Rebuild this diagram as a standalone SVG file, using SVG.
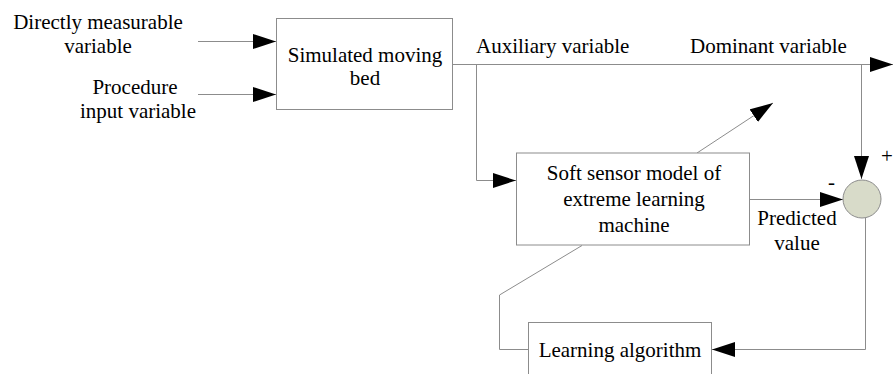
<svg xmlns="http://www.w3.org/2000/svg" width="893" height="374" viewBox="0 0 893 374">
<defs>
<marker id="ah" markerUnits="userSpaceOnUse" markerWidth="24" markerHeight="15" refX="23" refY="7.5" orient="auto" viewBox="0 0 24 15">
<path d="M0,0 L23,7.5 L0,15 z" fill="#000"/>
</marker>
</defs>
<g id="labels-in" font-family="Times New Roman, Liberation Serif, serif" font-size="21" text-anchor="middle">
<text x="98" y="29">Directly measurable</text>
<text x="98" y="53">variable</text>
<text x="135" y="94">Procedure</text>
<text x="138" y="118">input variable</text>
</g>
<g id="connectors" fill="none" stroke="#8c8c8c" stroke-width="1">
<line x1="198" y1="41.5" x2="276" y2="41.5" marker-end="url(#ah)"/>
<line x1="198" y1="94.5" x2="276" y2="94.5" marker-end="url(#ah)"/>
<line x1="453" y1="64.5" x2="893" y2="64.5" marker-end="url(#ah)"/>
<polyline points="476.5,64.5 476.5,180.5 516,180.5" marker-end="url(#ah)"/>
<line x1="861.5" y1="64.5" x2="861.5" y2="179" marker-end="url(#ah)"/>
<line x1="750" y1="199.5" x2="843" y2="199.5" marker-end="url(#ah)"/>
<line x1="697" y1="153" x2="773" y2="103" marker-end="url(#ah)"/>
<polyline points="865.5,217 865.5,349.5 712,349.5" marker-end="url(#ah)"/>
<polyline points="582,245.5 499.5,295 499.5,349.5 528,349.5"/>
</g>
<g id="connector-labels" font-family="Times New Roman, Liberation Serif, serif" font-size="21" fill="#000">
<text x="881" y="163">+</text>
<text x="828" y="189">-</text>
<text x="476" y="53">Auxiliary variable</text>
<text x="690" y="53">Dominant variable</text>
<text x="797" y="225" text-anchor="middle">Predicted</text>
<text x="797" y="250" text-anchor="middle">value</text>
</g>
<g id="smb" font-family="Times New Roman, Liberation Serif, serif" font-size="21" text-anchor="middle">
<rect x="276.5" y="18.5" width="176" height="91" fill="#fff" stroke="#8c8c8c"/>
<text x="365" y="62">Simulated moving</text>
<text x="365" y="85">bed</text>
</g>
<g id="elm" font-family="Times New Roman, Liberation Serif, serif" font-size="21" text-anchor="middle">
<rect x="516.5" y="153" width="233" height="92" fill="#fff" stroke="#8c8c8c"/>
<text x="634" y="180">Soft sensor model of</text>
<text x="634" y="206">extreme learning</text>
<text x="634" y="232">machine</text>
</g>
<g id="sum">
<circle cx="862" cy="199" r="19" fill="#d8dbc9" stroke="#8c8c8c"/>
</g>
<g id="learn" font-family="Times New Roman, Liberation Serif, serif" font-size="21" text-anchor="middle">
<rect x="528.5" y="322.5" width="183" height="60" fill="#fff" stroke="#8c8c8c"/>
<text x="620" y="357">Learning algorithm</text>
</g>
</svg>
